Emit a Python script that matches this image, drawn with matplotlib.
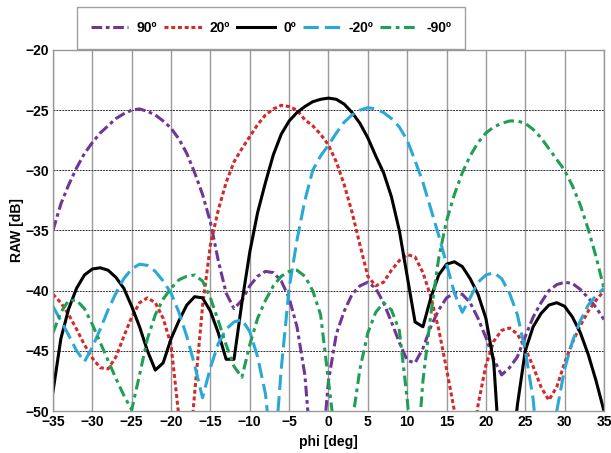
import numpy as np
import matplotlib.pyplot as plt

plt.rcParams['font.family'] = ['Liberation Sans', 'DejaVu Sans']
plt.rcParams['font.weight'] = 'bold'

phi = list(range(-35, 36))

# RAW [dB] per steering angle, read at 1 deg steps (values < -50 are nulls)
raw_90 = [-35.0, -32.8, -31.2, -29.8, -28.6, -27.7, -26.9, -26.3, -25.7, -25.3,
          -25.0, -24.9, -25.1, -25.4, -25.9, -26.5, -27.4, -28.6, -30.2, -32.0,
          -34.3, -37.5, -40.2, -41.5, -40.8, -39.6, -38.8, -38.4, -38.5, -39.2,
          -40.6, -43.0, -47.0, -55.0, -55.0, -47.5, -43.6, -41.7, -40.3, -39.6,
          -39.3, -39.8, -41.0, -42.6, -44.3, -45.8, -46.0, -44.8, -43.0, -41.6,
          -40.6, -40.2, -40.3, -41.0, -42.3, -43.9, -45.7, -47.0, -46.4, -45.5,
          -43.8, -42.2, -41.0, -40.0, -39.5, -39.3, -39.4, -39.9, -40.6, -41.4,
          -42.4]
raw_20 = [-40.3, -41.0, -42.0, -43.2, -44.5, -45.6, -46.4, -46.5, -45.5, -43.8,
          -42.2, -41.0, -40.6, -41.0, -42.3, -44.5, -50.5, -56.0, -48.5, -41.3,
          -36.2, -33.3, -31.0, -29.3, -28.2, -27.2, -26.2, -25.4, -24.9, -24.6,
          -24.7, -25.0, -25.8, -26.3, -27.0, -27.9, -29.3, -31.2, -33.5, -36.2,
          -38.8, -39.6, -39.3, -38.3, -37.5, -37.0, -37.2, -38.5, -40.5, -43.2,
          -46.5, -50.0, -58.0, -55.0, -49.5, -46.2, -44.2, -43.3, -43.1, -43.6,
          -44.8, -46.3, -48.0, -49.1, -48.0, -46.0, -44.3, -42.9, -41.7, -40.8,
          -40.0]
raw_0 = [-48.4, -44.0, -41.5, -39.8, -38.7, -38.2, -38.1, -38.3, -38.9, -39.8,
         -41.3, -43.0, -45.0, -46.6, -46.0, -44.0, -42.5, -41.2, -40.5, -40.6,
         -41.7, -43.5, -45.7, -45.7, -41.0, -36.8, -33.5, -31.0, -28.7, -27.0,
         -25.9, -25.2, -24.7, -24.3, -24.1, -24.0, -24.1, -24.5, -25.2, -26.1,
         -27.3, -28.8, -30.2, -32.2, -35.0, -38.8, -42.6, -43.0, -40.6, -38.7,
         -37.8, -37.6, -38.0, -39.0, -40.3, -42.3, -46.0, -56.0, -56.0, -49.5,
         -45.0, -43.0, -41.9, -41.2, -41.0, -41.3, -42.2, -43.5, -45.3, -47.5,
         -50.0]
raw_m20 = [-41.3, -42.5, -43.7, -45.0, -45.9, -44.7, -43.2, -41.6, -40.2, -39.0,
           -38.2, -37.8, -37.9, -38.4, -39.2, -40.2, -41.8, -43.8, -46.2, -48.9,
           -46.4, -44.4, -43.2, -42.6, -42.4, -43.4, -45.5, -48.6, -55.0, -46.5,
           -39.8, -35.8, -32.5, -30.0, -28.8, -27.9, -26.9, -26.0, -25.4, -25.0,
           -24.8, -24.9, -25.2, -25.7, -26.4, -27.5, -29.2, -31.0, -33.2, -35.4,
           -37.8, -40.2, -41.8, -40.6, -39.3, -38.7, -38.5, -39.0, -40.2, -42.0,
           -45.0, -49.0, -56.0, -56.0, -50.0, -46.5, -44.2, -42.5, -41.2, -40.4,
           -39.8]
raw_m90 = [-43.5, -41.8, -40.8, -40.8, -41.5, -42.8, -44.3, -45.8, -47.3, -48.7,
           -49.9, -47.0, -44.0, -42.0, -40.7, -39.8, -39.1, -38.8, -38.7, -39.2,
           -40.6, -42.5, -44.5, -46.3, -47.2, -44.5, -42.3, -40.8, -39.6, -38.8,
           -38.4, -38.3, -38.8, -40.0, -42.0, -47.5, -53.0, -58.0, -51.0, -46.5,
           -43.5, -41.8, -41.0, -41.6, -43.3, -49.0, -56.0, -47.5, -42.0, -37.3,
           -34.2, -32.0, -30.2, -28.8, -27.7, -26.9, -26.4, -26.1, -25.9, -25.9,
           -26.1, -26.6, -27.3, -28.2, -29.1, -30.0, -31.3, -32.9, -34.9, -37.2,
           -39.8]

labels = ['90º', '20º', '0º', '-20º', '-90º']
series = [raw_90, raw_20, raw_0, raw_m20, raw_m90]
colors = ['#6f3597', '#d42a2a', '#000000', '#2aa9d8', '#1f9e55']
styles = [(0, (3.5, 1.2, 1.2, 1.2)), (0, (1.3, 0.9)), '-', (0, (5, 2)),
          (0, (3.5, 1.5, 1.2, 1.5))]

fig = plt.figure(figsize=(6.11, 4.53), dpi=100)
ax = fig.add_axes([0.0867, 0.0927, 0.9018, 0.797])

for vals, lab, col, ls in zip(series, labels, colors, styles):
    ax.plot(phi, vals, color=col, linestyle=ls, linewidth=2.2, label=lab)

ax.set_xlim(-35, 35)
ax.set_ylim(-50, -20)
ax.set_xticks(np.arange(-35, 36, 5))
ax.set_yticks(np.arange(-50, -19, 5))
ax.tick_params(length=0, labelsize=10, pad=3)
for t in ax.get_xticklabels() + ax.get_yticklabels():
    t.set_fontweight('bold')
ax.xaxis.grid(True, color='#999999', linewidth=1.0, linestyle='-')
ax.yaxis.grid(True, color='#333333', linewidth=0.7, linestyle=(0, (2, 1)))
ax.set_axisbelow(True)
for sp in ax.spines.values():
    sp.set_color('#999999')
    sp.set_linewidth(1.0)

ax.set_xlabel('phi [deg]', fontsize=10, fontweight='bold', labelpad=4)
ax.set_ylabel('RAW [dB]', fontsize=10, fontweight='bold', labelpad=1)

leg = fig.legend(loc='center', bbox_to_anchor=(0.4435, 0.938), ncol=5,
                 fontsize=10, frameon=True, fancybox=False, handlelength=2.7,
                 handletextpad=0.6, columnspacing=0.5, borderpad=1.0,
                 borderaxespad=0)
leg.get_frame().set_edgecolor('#888888')
leg.get_frame().set_linewidth(1.0)
for t in leg.get_texts():
    t.set_fontweight('bold')

fig.savefig('out.png', dpi=100)
